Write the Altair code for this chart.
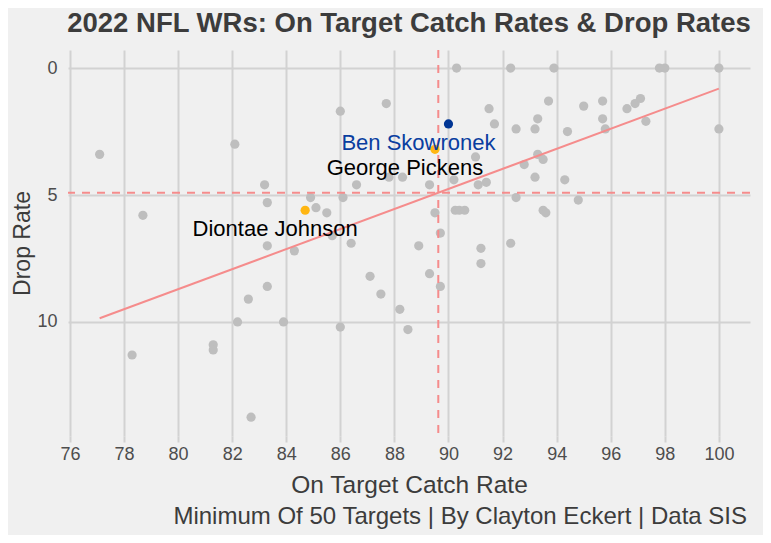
import altair as alt
import pandas as pd

TITLE = "2022 NFL WRs: On Target Catch Rates & Drop Rates"
X_TITLE = "On Target Catch Rate"
Y_TITLE = "Drop Rate"
CAPTION = "Minimum Of 50 Targets | By Clayton Eckert | Data SIS"

# gray (other receivers)
catch_rate = [77.1, 82.1, 83.2, 83.3, 78.7, 84.9, 85.1, 85.5, 86.1, 86.6,
              86.0, 87.7, 87.8, 88.3, 89.3, 89.5, 90.25, 90.4, 90.6, 90.2,
              91.1, 91.4, 91.0, 90.3, 92.3, 93.9, 97.8, 98.0, 100.0, 100.0,
              91.5, 91.7, 92.5, 93.2, 93.3, 93.7, 94.4, 95.0, 95.7, 95.7,
              95.8, 96.6, 96.9, 97.1, 97.3, 93.3, 93.5, 92.8, 93.2, 94.3,
              94.8, 92.5, 93.5, 93.6, 83.3, 84.3, 83.3, 82.6, 82.2, 83.9,
              78.3, 81.3, 81.3, 82.7, 85.7, 86.4, 89.7, 88.9, 91.2, 91.2,
              92.3, 87.1, 89.3, 89.7, 87.5, 88.2, 86.0, 88.5]
drop_rate = [3.4, 3.0, 4.6, 5.3, 5.8, 5.1, 5.5, 5.7, 5.1, 4.6,
             1.7, 1.4, 4.3, 4.3, 4.6, 5.7, 5.6, 5.6, 5.6, 4.4,
             4.6, 4.5, 3.5, 0.0, 0.0, 0.0, 0.0, 0.0, 0.0, 2.4,
             1.6, 2.2, 2.4, 2.4, 2.0, 1.3, 2.5, 1.5, 1.3, 2.0,
             2.4, 1.6, 1.4, 1.2, 2.1, 3.4, 3.6, 3.8, 4.3, 4.4,
             5.2, 5.1, 5.6, 5.7, 7.0, 7.2, 8.6, 9.1, 10.0, 10.0,
             11.3, 10.9, 11.1, 13.75, 6.6, 6.9, 6.5, 7.0, 7.1, 7.7,
             6.9, 8.2, 8.1, 8.6, 8.9, 9.5, 10.2, 10.3]

# highlighted receivers
hl_names = ["Diontae Johnson", "George Pickens", "Ben Skowronek"]
hl_catch = [84.7, 89.5, 90.0]
hl_drop = [5.6, 3.2, 2.2]
hl_point_colors = ["#FFB612", "#FFB612", "#003594"]
hl_label_colors = ["#000000", "#000000", "#0A3EA0"]

x_ticks = list(range(76, 101, 2))
y_ticks = [0, 5, 10]

FONT = "Liberation Sans"
BG = "#f0f0f0"
GRID = "#d2d2d2"
LINE_RED = "#f58c8c"

base_df = pd.DataFrame({"catch": catch_rate, "drop": drop_rate})
hl_df = pd.DataFrame({"catch": hl_catch, "drop": hl_drop, "name": hl_names,
                      "pcolor": hl_point_colors, "lcolor": hl_label_colors})
all_df = pd.concat([base_df, hl_df[["catch", "drop"]]], ignore_index=True)

W, H = 682, 386
xscale = alt.Scale(domain=[75.93, 101.15], nice=False, zero=False)
yscale = alt.Scale(domain=[-0.71, 14.49], nice=False, zero=False, reverse=True)

x_enc = alt.X("catch:Q", scale=xscale,
              axis=alt.Axis(values=x_ticks, title=X_TITLE, grid=True,
                            gridColor=GRID, gridWidth=2, domain=False,
                            ticks=True, tickColor=GRID, tickWidth=2, tickSize=6,
                            labelPadding=3, labelFontSize=18, labelFont=FONT,
                            labelColor="#4d4d4d", titleFontSize=24.5, titleFont=FONT,
                            titleFontWeight="normal", titleColor="#3c3c3c",
                            titleX=W / 2, titleY=49, titleBaseline="middle"))
y_enc = alt.Y("drop:Q", scale=yscale,
              axis=alt.Axis(values=y_ticks, title=Y_TITLE, grid=True,
                            gridColor=GRID, gridWidth=2, domain=False,
                            ticks=False, labelPadding=11, labelFontSize=18,
                            labelFont=FONT, labelColor="#4d4d4d",
                            titleFontSize=23, titleFont=FONT,
                            titleFontWeight="normal", titleColor="#3c3c3c",
                            titleX=-46, titleY=H / 2, titleAngle=-90,
                            titleBaseline="middle", titleAlign="center"))

points = alt.Chart(base_df).mark_circle(size=85, opacity=1, color="#bebebe").encode(
    x=x_enc, y=y_enc)

vmean = alt.Chart(all_df).mark_rule(color=LINE_RED, strokeWidth=2, strokeDash=[8, 7]).encode(
    x=alt.X("mean(catch):Q", scale=xscale))
hmean = alt.Chart(all_df).mark_rule(color=LINE_RED, strokeWidth=2, strokeDash=[8, 7]).encode(
    y=alt.Y("mean(drop):Q", scale=yscale))

reg = alt.Chart(all_df).transform_regression("catch", "drop").mark_line(
    color=LINE_RED, strokeWidth=2).encode(
    x=alt.X("catch:Q", scale=xscale), y=alt.Y("drop:Q", scale=yscale))

hl_points = alt.Chart(hl_df).mark_circle(size=85, opacity=1).encode(
    x=alt.X("catch:Q", scale=xscale), y=alt.Y("drop:Q", scale=yscale),
    color=alt.Color("pcolor:N", scale=None))

labels = alt.Chart(hl_df).mark_text(fontSize=22, font=FONT, dx=-30, dy=19,
                                    align="center", baseline="middle").encode(
    x=alt.X("catch:Q", scale=xscale), y=alt.Y("drop:Q", scale=yscale),
    text="name:N", color=alt.Color("lcolor:N", scale=None))

caption = alt.Chart(pd.DataFrame({"t": [CAPTION]})).mark_text(
    fontSize=24, font=FONT, color="#3c3c3c", align="right", baseline="middle").encode(
    text="t:N", x=alt.value(W - 3), y=alt.value(H + 81))

chart = alt.layer(points, reg, vmean, hmean, hl_points, labels, caption).properties(
    width=W, height=H,
    title=alt.TitleParams(TITLE, fontSize=27.5, font=FONT, fontWeight="bold",
                          color="#3c3c3c", anchor="middle", baseline="alphabetic",
                          offset=-10),
    autosize=alt.AutoSizeParams(type="none"),
    padding={"left": 60, "top": 42, "right": 13, "bottom": 99},
    background=BG,
).configure_view(stroke=None)

chart.save("out.html", embed_options={"renderer": "svg", "actions": False})
